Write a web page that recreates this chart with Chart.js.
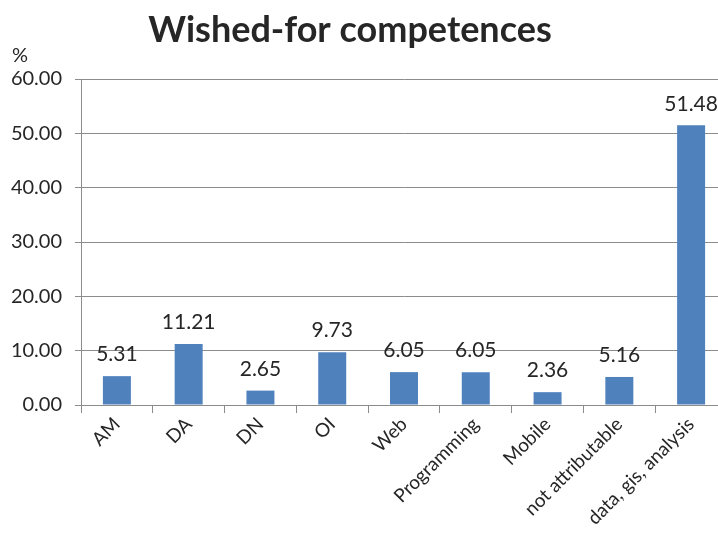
<!DOCTYPE html>
<html>
<head>
<meta charset="utf-8">
<script src="https://cdn.jsdelivr.net/npm/chart.js@4"></script>
<style>
  html, body { margin: 0; padding: 0; background: #fff; overflow: hidden; }
  #wrap { position: relative; width: 736px; height: 539px; }
</style>
</head>
<body>
<div id="wrap"><canvas id="myChart"></canvas></div>
<script>
const categories = ['AM', 'DA', 'DN', 'OI', 'Web', 'Programming', 'Mobile', 'not attributable', 'data, gis, analysis'];
const shares = [5.31, 11.21, 2.65, 9.73, 6.05, 6.05, 2.36, 5.16, 51.48];
const yMin = 0;
const yMax = 60;
const yStep = 10;
const chartTitle = 'Wished-for competences';
const unitLabel = '%';

const fontName = 'Lato, "Open Sans", sans-serif';
const textColor = '#262626';
const gridColor = '#8c8c8c';

// draws the title, the "%" unit and the value above each bar
const extraText = {
    id: 'extraText',
    afterDatasetsDraw(chart) {
        const ctx = chart.ctx;
        ctx.save();
        ctx.fillStyle = textColor;

        ctx.font = 'bold 36px ' + fontName;
        ctx.textAlign = 'center';
        ctx.textBaseline = 'alphabetic';
        ctx.fillText(chartTitle, 350, 42);

        ctx.font = '20px ' + fontName;
        ctx.textAlign = 'left';
        ctx.fillText(unitLabel, 12, 62);

        ctx.font = '21px ' + fontName;
        ctx.textAlign = 'center';
        ctx.textBaseline = 'bottom';
        const meta = chart.getDatasetMeta(0);
        meta.data.forEach(function(bar, i) {
            ctx.fillText(shares[i].toFixed(2), bar.x, bar.y - 11);
        });
        ctx.restore();
    }
};

const data = {
    labels: categories,
    datasets: [{
        data: shares,
        backgroundColor: '#4f81bd',
        borderWidth: 0,
        barPercentage: 0.39,
        categoryPercentage: 1
    }]
};

const config = {
    type: 'bar',
    data,
    options: {
        responsive: true,
        maintainAspectRatio: false,
        animation: false,
        layout: { padding: { top: 79, left: 0, right: 9, bottom: 0 } },
        plugins: {
            legend: { display: false },
            tooltip: { enabled: false },
            title: { display: false }
        },
        scales: {
            x: {
                offset: true,
                grid: {
                    offset: true,
                    drawOnChartArea: false,
                    drawTicks: true,
                    tickLength: 8,
                    color: gridColor
                },
                border: { color: gridColor },
                ticks: {
                    minRotation: 45,
                    maxRotation: 45,
                    autoSkip: false,
                    color: textColor,
                    font: { family: fontName, size: 19 },
                    padding: 0
                },
                afterFit(scale) { scale.height = 134; }
            },
            y: {
                min: yMin,
                max: yMax,
                ticks: {
                    stepSize: yStep,
                    color: textColor,
                    font: { family: fontName, size: 20 },
                    padding: 13,
                    callback: function(v) { return Number(v).toFixed(2); }
                },
                grid: {
                    color: gridColor,
                    tickLength: 6,
                    drawTicks: true
                },
                border: { color: gridColor },
                afterFit(scale) { scale.width = 81; }
            }
        }
    },
    plugins: [extraText]
};

var myChart = new Chart(document.getElementById('myChart'), config);
</script>
</body>
</html>
